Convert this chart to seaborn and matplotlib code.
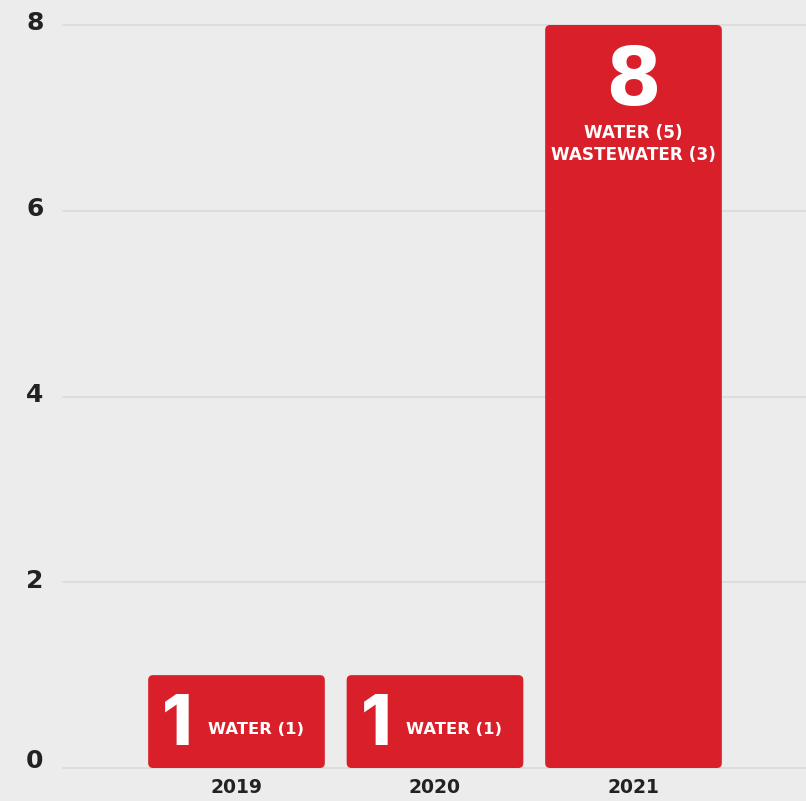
import matplotlib
matplotlib.use("Agg")
import matplotlib.pyplot as plt
import matplotlib.transforms as mtransforms
from matplotlib.patches import FancyBboxPatch
import seaborn as sns
import pandas as pd

years = ["2019", "2020", "2021"]
counts = [1, 1, 8]
big_labels = ["1", "1", "8"]
detail_labels = ["WATER (1)", "WATER (1)", "WATER (5)\nWASTEWATER (3)"]
yticks = [0, 2, 4, 6, 8]

RED = "#D9202A"
BG = "#ECECEC"

sns.set_theme(style="white")
plt.rcParams["font.family"] = ["DejaVu Sans"]

fig = plt.figure(figsize=(8.06, 8.01), dpi=100)
fig.patch.set_facecolor(BG)
ax = fig.add_axes([63 / 806, 33 / 801, 743 / 806, 743 / 801])
ax.set_facecolor(BG)

df = pd.DataFrame({"year": years, "count": counts})
sns.barplot(data=df, x="year", y="count", color=RED, width=0.89,
            saturation=1, ax=ax, zorder=3)

ax.set_xlim(-0.874, 2.869)
ax.set_ylim(0, 8)

# replace bars with rounded ones
for p in list(ax.patches):
    x, y = p.get_x(), p.get_y()
    w, h = p.get_width(), p.get_height()
    fb = FancyBboxPatch((x, y), w, h,
                        boxstyle="round,pad=0,rounding_size=0.025",
                        mutation_aspect=2.14, facecolor=RED,
                        edgecolor="none", zorder=3, clip_on=False)
    p.remove()
    ax.add_patch(fb)

# grid
for v in yticks:
    ax.axhline(v, color="#DADADA", lw=1.2, zorder=1, clip_on=False)

for s in ax.spines.values():
    s.set_visible(False)

ax.set_yticks(yticks)
ax.set_yticklabels([str(v) for v in yticks], fontsize=18, fontweight="bold",
                   color="#222222")
ax.tick_params(axis="y", length=0, pad=14)
for lab in ax.get_yticklabels():
    dy = 10 if lab.get_text() == "0" else 4
    off = mtransforms.ScaledTranslation(0, dy / 100, fig.dpi_scale_trans)
    lab.set_transform(lab.get_transform() + off)
ax.set_xticks(range(len(years)))
ax.set_xticklabels(years, fontsize=13.5, fontweight="bold", color="#222222")
ax.tick_params(axis="x", length=0, pad=7)
ax.set_xlabel("")
ax.set_ylabel("")

# labels inside small bars
for i in range(2):
    ax.text(i - 0.22, 0.45, big_labels[i], ha="right", va="center",
            fontsize=50, fontweight="heavy", color="white", zorder=4,
            family=["Inter", "DejaVu Sans"])
    ax.text(i - 0.145, 0.41, detail_labels[i], ha="left", va="center",
            fontsize=11.8, fontweight="bold", color="white", zorder=4)

# big bar
ax.text(2, 7.38, big_labels[2], ha="center", va="center", fontsize=58,
        fontweight="bold", color="white", zorder=4)
ax.text(2, 6.72, detail_labels[2], ha="center", va="center", fontsize=12.2,
        fontweight="bold", color="white", zorder=4, linespacing=1.25)

fig.savefig("out.png", dpi=100, facecolor=BG)
